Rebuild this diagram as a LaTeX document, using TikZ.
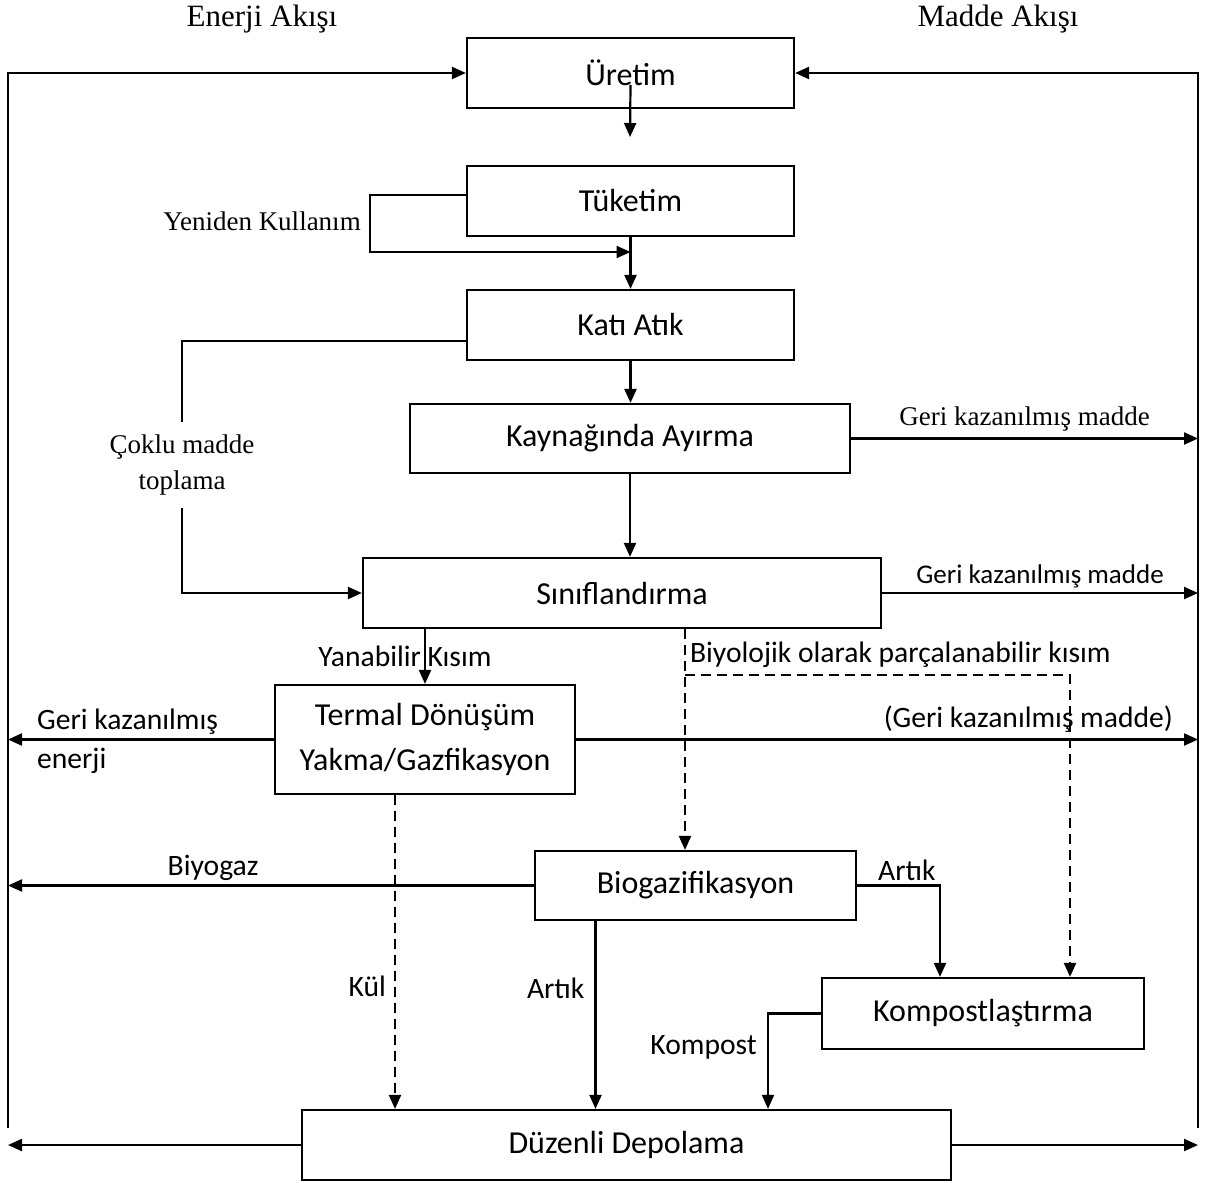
\documentclass[tikz,border=0pt]{standalone}
\usepackage{fontspec}
\setmainfont{Liberation Serif}
\newfontfamily\kalfont{Carlito}
\usepackage{tikz}
\usetikzlibrary{calc,arrows.meta,positioning}

\begin{document}
\begin{tikzpicture}[x=0.5pt,y=-0.5pt,
  kutu/.style={draw, line width=1.1pt, font=\kalfont\fontsize{16}{22.5}\selectfont, align=center, inner sep=0pt},
  ok/.style={line width=1.1pt, -{Triangle[length=7pt,width=6pt]}},
  cizgi/.style={line width=1.1pt},
  kesik/.style={ok, dash pattern=on 5pt off 3pt},
  etiket/.style={font=\kalfont\fontsize{14.8}{17}\selectfont, inner sep=2pt},
  yazi/.style={font=\fontsize{13.5}{18}\selectfont},
  baslik/.style={font=\fontsize{15.5}{18}\selectfont}]
\useasboundingbox (0,0) rectangle (1213,1182);
\node[baslik] (enerji) at (262,19) {Enerji Akışı};
\node[baslik] (madde) at (998,19) {Madde Akışı};
\node[kutu, minimum width=163.5pt, minimum height=35pt] (uretim) at (630.5,73) {Üretim};
\node[kutu, minimum width=163.5pt, minimum height=35pt] (tuketim) at (630.5,201) {Tüketim};
\node[kutu, minimum width=163.5pt, minimum height=35pt] (kati) at (630.5,325) {Katı Atık};
\node[kutu, minimum width=220pt, minimum height=34.5pt] (kaynak) at (630,438.5) {Kaynağında Ayırma};
\node[kutu, minimum width=259pt, minimum height=35pt] (sinif) at (622,593) {Sınıflandırma};
\node[kutu, minimum width=150pt, minimum height=54.5pt] (termal) at (425,739.5) {Termal Dönüşüm\\Yakma/Gazfikasyon};
\node[kutu, minimum width=160.5pt, minimum height=34.5pt] (biyo) at (695.5,885.5) {Biogazifikasyon};
\node[kutu, minimum width=161pt, minimum height=35.5pt] (kompost) at (983,1013.5) {Kompostlaştırma};
\node[kutu, minimum width=324.5pt, minimum height=35pt] (duzenli) at (626.5,1145) {Düzenli Depolama};
\node[yazi] (yeniden) at (262,221) {Yeniden Kullanım};
\node[yazi, align=center, inner sep=6pt] (coklu) at (182,465) {Çoklu madde\\toplama};
\coordinate (solalt) at (8,1128);
\coordinate (sagalt) at (1198,1128);
\coordinate (uretimcikis) at (630,137);
\coordinate (yenidenkose) at (370,252);
\coordinate (ayrim) at (685,675);
\coordinate (termalalt) at ([xshift=-15pt]termal.south);
\coordinate (biyoalt) at ([xshift=-50pt]biyo.south);
\coordinate (kompostgiris) at ([xshift=43.5pt]kompost.north);
\coordinate (artikgiris) at ([xshift=-21.5pt]kompost.north);
\coordinate (kompostcikis) at ([xshift=70.75pt]duzenli.north);
\draw[ok] (solalt) |- (uretim.west);
\draw[ok] (sagalt) |- (uretim.east);
\draw[ok] ([yshift=-6pt]uretim.center) -- (uretimcikis);
\draw[ok] ([yshift=3pt]tuketim.west) -| (yenidenkose) -- (yenidenkose -| tuketim);
\draw[ok] (tuketim) -- (kati);
\draw[ok] (kati) -- (kati |- kaynak.north);
\draw[ok] (kaynak) -- (kaynak |- sinif.north);
\draw[cizgi] ([yshift=-8pt]kati.west) -| (coklu.north);
\draw[ok] (coklu.south) |- (sinif.west);
\draw[ok] (kaynak.east) -- (kaynak.east -| sagalt) node[midway, above, yazi, inner sep=3pt] {Geri kazanılmış madde};
\draw[ok] (sinif.east) -- (sinif.east -| sagalt) node[midway, above, etiket, font=\kalfont\fontsize{13.5}{16}\selectfont] {Geri kazanılmış madde};
\draw[ok] (sinif.south -| termal.north) -- (termal.north) node[midway, etiket, xshift=-10pt] {Yanabilir Kısım};
\draw[ok] (termal.west) -- (termal.west -| solalt)
  node[pos=1, anchor=south west, etiket, xshift=12pt] {Geri kazanılmış}
  node[pos=1, anchor=north west, etiket, xshift=12pt, yshift=-2pt] {enerji};
\draw[ok] (termal.east) -- (termal.east -| sagalt) node[pos=1, anchor=south east, etiket, xshift=-10pt, yshift=1pt] {(Geri kazanılmış madde)};
\draw[kesik] (sinif.south -| ayrim) -- (ayrim |- biyo.north);
\draw[kesik] (ayrim) -| (kompostgiris) node[pos=0, anchor=south west, etiket, yshift=1pt] {Biyolojik olarak parçalanabilir kısım};
\draw[ok] (biyo.west) -- (biyo.west -| solalt) node[pos=0.61, above, etiket] {Biyogaz};
\draw[ok] (biyo.east) -| (artikgiris) node[pos=0.3, above, etiket] {Artık};
\draw[ok] (biyoalt) -- (biyoalt |- duzenli.north) node[pos=0.36, left, etiket, xshift=-3pt] {Artık};
\draw[kesik] (termalalt) -- (termalalt |- duzenli.north) node[pos=0.61, left, etiket, xshift=-2pt] {Kül};
\draw[ok] (kompost.west) -| (kompostcikis) node[pos=0.68, left, etiket, xshift=-3pt] {Kompost};
\draw[ok] (duzenli.west) -- (duzenli.west -| solalt);
\draw[ok] (duzenli.east) -- (duzenli.east -| sagalt);
\end{tikzpicture}
\end{document}
